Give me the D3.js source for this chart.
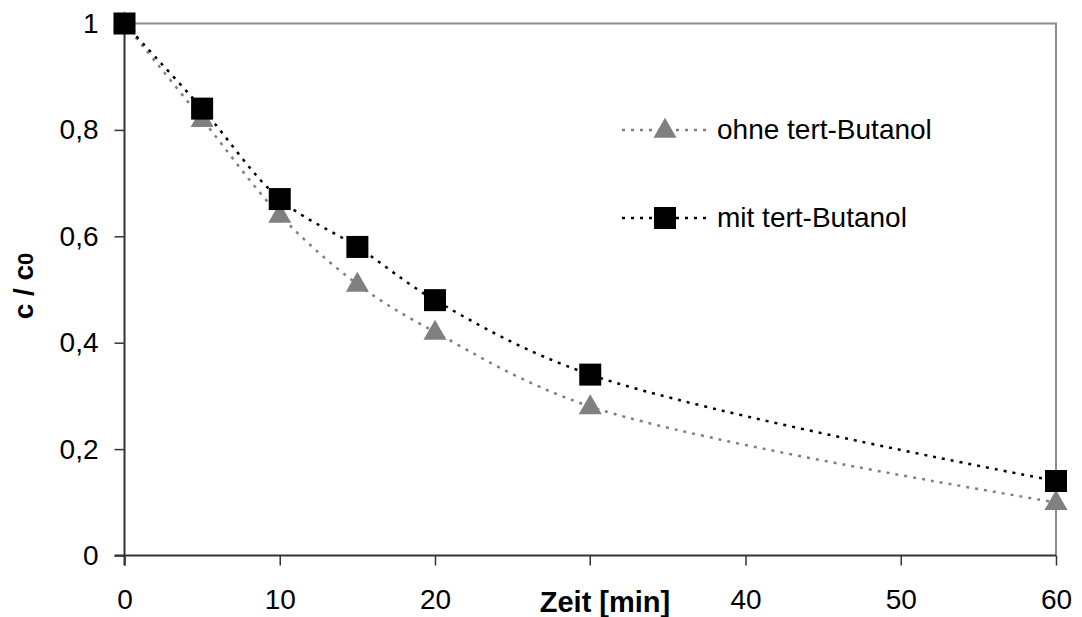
<!DOCTYPE html>
<html>
<head>
<meta charset="utf-8">
<script src="https://cdn.jsdelivr.net/npm/d3@7"></script>
<style>
  body { margin: 0; background: #fff; }
  text { font-family: Arial, "Liberation Sans", sans-serif; }
</style>
</head>
<body>
<svg width="1082" height="617"></svg>
<script>
// data
var zeit = [0, 5, 10, 15, 20, 30, 60]
var ohne = [1, 0.82, 0.64, 0.51, 0.42, 0.28, 0.10]
var mit = [1, 0.84, 0.67, 0.58, 0.48, 0.34, 0.14]
var xTicks = [0, 10, 20, 40, 50, 60]
var yTicks = [0, 0.2, 0.4, 0.6, 0.8, 1]
var seriesNames = ['ohne tert-Butanol', 'mit tert-Butanol']

var svg = d3.select('svg')

var x = d3.scaleLinear().domain([0, 60]).range([124.5, 1056])
var y = d3.scaleLinear().domain([0, 1]).range([555.5, 23.5])

// frame: grey top and right
svg.append('path')
    .attr('d', 'M' + x(0) + ',' + y(1) + 'H' + x(60) + 'V' + y(0))
    .attr('fill', 'none')
    .attr('stroke', '#8c8c8c')
    .attr('stroke-width', 2)

// x axis
var xAxis = d3.axisBottom(x)
    .tickValues(xTicks)
    .tickSize(10)
    .tickPadding(24)
    .tickFormat(d3.format('d'))
var gx = svg.append('g')
    .attr('transform', 'translate(0,' + y(0) + ')')
    .call(xAxis)
gx.select('.domain').attr('d', 'M' + (x(0) - 10) + ',0H' + x(60)).attr('stroke', '#333').attr('stroke-width', 2)
gx.selectAll('.tick line').attr('stroke', '#333').attr('stroke-width', 1.5)
gx.selectAll('.tick text').attr('font-size', 28).attr('fill', '#000').attr('font-family', 'Arial, "Liberation Sans", sans-serif')

// the 30 tick exists but its label sits under the axis title
svg.append('line')
    .attr('x1', x(30)).attr('x2', x(30))
    .attr('y1', y(0)).attr('y2', y(0) + 10)
    .attr('stroke', '#333').attr('stroke-width', 1.5)

// y axis
var yAxis = d3.axisLeft(y)
    .tickValues(yTicks)
    .tickSize(10)
    .tickPadding(16)
    .tickFormat(function(d) { return d3.format('.1f')(d).replace('.', ',').replace(/^0,0$/, '0').replace(/^1,0$/, '1') })
var gy = svg.append('g')
    .attr('transform', 'translate(' + x(0) + ',0)')
    .call(yAxis)
gy.select('.domain').attr('d', 'M0,' + y(1) + 'V' + (y(0) + 10)).attr('stroke', '#333').attr('stroke-width', 2)
gy.selectAll('.tick line').attr('stroke', '#333').attr('stroke-width', 1.5)
gy.selectAll('.tick text').attr('font-size', 28).attr('fill', '#000').attr('font-family', 'Arial, "Liberation Sans", sans-serif')

// axis titles
svg.append('text')
    .attr('x', 605).attr('y', 612)
    .attr('text-anchor', 'middle')
    .attr('font-size', 29).attr('font-weight', 'bold')
    .text('Zeit [min]')

var yt = svg.append('text')
    .attr('transform', 'translate(33,286) rotate(-90)')
    .attr('text-anchor', 'middle')
    .attr('font-size', 28).attr('font-weight', 'bold')
yt.append('tspan').text('c / c')
yt.append('tspan').attr('font-size', 22).text('0')

// curves
var line = d3.line()
    .x(function(d, i) { return x(zeit[i]) })
    .y(function(d) { return y(d) })
    .curve(d3.curveCatmullRom.alpha(0.5))

svg.append('path')
    .attr('d', line(ohne))
    .attr('fill', 'none')
    .attr('stroke', '#808080')
    .attr('stroke-width', 2.5)
    .attr('stroke-dasharray', '3,6')

svg.append('path')
    .attr('d', line(mit))
    .attr('fill', 'none')
    .attr('stroke', '#000')
    .attr('stroke-width', 2.5)
    .attr('stroke-dasharray', '3,6')

var tri = d3.symbol().type(d3.symbolTriangle).size(230)

svg.selectAll('.tri')
    .data(ohne)
    .join('path')
    .attr('class', 'tri')
    .attr('d', tri)
    .attr('transform', function(d, i) { return 'translate(' + x(zeit[i]) + ',' + (y(d) + 1) + ')' })
    .attr('fill', '#808080')

svg.selectAll('.sq')
    .data(mit)
    .join('rect')
    .attr('class', 'sq')
    .attr('x', function(d, i) { return x(zeit[i]) - 11 })
    .attr('y', function(d) { return y(d) - 11 })
    .attr('width', 22).attr('height', 22)
    .attr('fill', '#000')

// legend
var legend = svg.append('g')
var rows = [
    { name: seriesNames[0], color: '#808080', y: 130, mark: 'tri' },
    { name: seriesNames[1], color: '#000', y: 218, mark: 'sq' }
]
rows.forEach(function(r) {
    legend.append('line')
        .attr('x1', 622).attr('x2', 712)
        .attr('y1', r.y).attr('y2', r.y)
        .attr('stroke', r.color).attr('stroke-width', 2.5)
        .attr('stroke-dasharray', '3,6')
    if (r.mark === 'tri') {
        legend.append('path')
            .attr('d', tri)
            .attr('transform', 'translate(665,' + (r.y + 1) + ')')
            .attr('fill', r.color)
    } else {
        legend.append('rect')
            .attr('x', 654).attr('y', r.y - 11)
            .attr('width', 22).attr('height', 22)
            .attr('fill', r.color)
    }
    legend.append('text')
        .attr('x', 717).attr('y', r.y + 9)
        .attr('font-size', 28)
        .text(r.name)
})
</script>
</body>
</html>
